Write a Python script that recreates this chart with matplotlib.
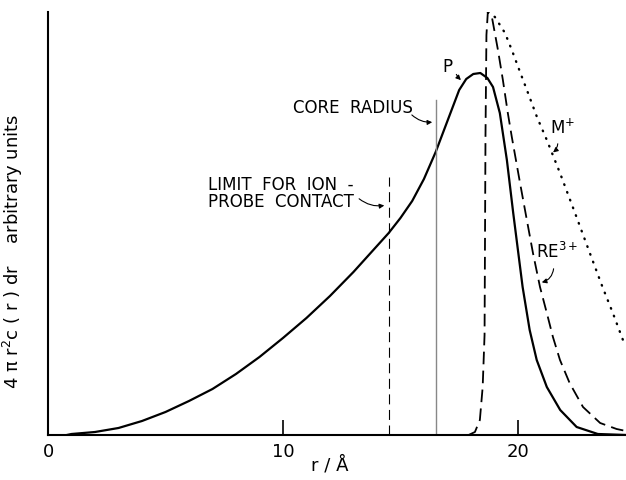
import matplotlib
matplotlib.use('Agg')
import matplotlib.pyplot as plt

plt.rcParams['font.family'] = ['Liberation Sans Narrow', 'DejaVu Sans']
plt.rcParams['mathtext.default'] = 'regular'

# probe distribution P (solid)
p_r = [0.8, 1, 2, 3, 4, 5, 6, 7, 8, 9, 10, 11, 12, 13, 14, 14.5, 15, 15.5, 16,
       16.5, 17, 17.5, 17.8, 18.1, 18.4, 18.7, 18.94, 19.23, 19.53, 19.8, 20.2,
       20.5, 20.8, 21.23, 21.8, 22.5, 23.4, 24.6]
p_h = [0, 1, 3, 7, 14, 23, 34, 46, 61, 78, 97, 117, 139, 163, 189, 202, 217, 234, 256,
       283, 314, 345, 356, 361, 362, 357, 348, 322, 275, 222, 148,
       105, 75, 48, 25, 8, 1, 0]

# RE3+ (dashed)
re_r = [17.9, 18.17, 18.38, 18.5, 18.58, 18.62, 18.66, 18.72, 18.9, 19.15, 19.36,
        19.57, 19.74, 20.09, 20.38, 20.64, 20.94, 21.23, 21.49, 21.79, 22.2,
        22.77, 23.5, 24.2, 24.6]
re_h = [0, 3, 15, 48, 100, 300, 400, 423, 417, 385, 355,
        322, 298, 252, 215, 182, 148, 122, 98, 75, 52,
        28, 12, 6, 4]

# M+ (dotted)
m_r = [18.72, 19.02, 19.45, 19.74, 20.09, 20.43, 20.81, 21.23, 21.79, 22.43,
       23.06, 23.6, 24.04, 24.55]
m_h = [423, 418, 402, 385, 363, 342, 318, 295, 262, 222,
       182, 148, 122, 90]

limit_r, limit_top = 14.5, 258
core_r, core_top = 16.5, 335

fig = plt.figure(figsize=(6.26, 4.8), dpi=100)
ax = fig.add_axes([48/626, 45/480, 578/626, 423/480])

ax.plot(p_r, p_h, color='black', lw=1.6)
ax.plot(re_r, re_h, color='black', lw=1.3, linestyle=(0, (7, 3.5)))
ax.plot(m_r, m_h, color='black', lw=1.7, linestyle=(0, (0.3, 3.2)), dash_capstyle='round')

ax.plot([limit_r, limit_r], [0, limit_top], color='black', lw=0.8, linestyle=(0, (9, 5)))
ax.plot([core_r, core_r], [0, core_top], color='#888888', lw=1.0)

ax.set_xlim(0, 24.6)
ax.set_ylim(0, 423)
for s in ['top', 'right']:
    ax.spines[s].set_visible(False)
ax.spines['left'].set_linewidth(1.5)
ax.spines['bottom'].set_linewidth(1.5)
ax.set_yticks([])
ax.set_xticks([0, 10, 20])
ax.set_xticklabels(['0', '10', '20'], fontsize=13)
ax.tick_params(axis='x', direction='in', length=11, width=1.2, pad=6)

ax.set_xlabel('r / Å', fontsize=13)
ax.xaxis.set_label_coords(0.488, -0.05)
ax.set_ylabel(r'4 $\pi$ r$^{2}$c ( r ) dr    arbitrary units', fontsize=13)
ax.yaxis.set_label_coords(-0.04, 0.433)

arr = dict(arrowstyle='-|>', color='black', lw=0.8, mutation_scale=7)
ax.text(10.43, 327, 'CORE  RADIUS', fontsize=12, ha='left', va='center')
ax.annotate('', xy=(16.47, 313), xytext=(15.4, 322),
            arrowprops=dict(connectionstyle='arc3,rad=0.25', **arr))
ax.text(6.8, 241.5, 'LIMIT  FOR  ION  -\nPROBE  CONTACT', fontsize=12, ha='left',
        va='center', linespacing=0.95)
ax.annotate('', xy=(14.43, 230), xytext=(13.15, 238),
            arrowprops=dict(connectionstyle='arc3,rad=0.25', **arr))
ax.text(16.98, 368, 'P', fontsize=12, ha='center', va='center')
ax.annotate('', xy=(17.66, 353), xytext=(17.32, 363),
            arrowprops=dict(connectionstyle='arc3,rad=0.1', **arr))
ax.text(21.9, 307, 'M$^{+}$', fontsize=12, ha='center', va='center')
ax.annotate('', xy=(21.4, 281), xytext=(21.7, 294),
            arrowprops=dict(connectionstyle='arc3,rad=-0.3', **arr))
ax.text(21.66, 183, 'RE$^{3+}$', fontsize=12, ha='center', va='center')
ax.annotate('', xy=(20.9, 152), xytext=(21.53, 169),
            arrowprops=dict(connectionstyle='arc3,rad=-0.4', **arr))

fig.savefig('out.png', dpi=100)
